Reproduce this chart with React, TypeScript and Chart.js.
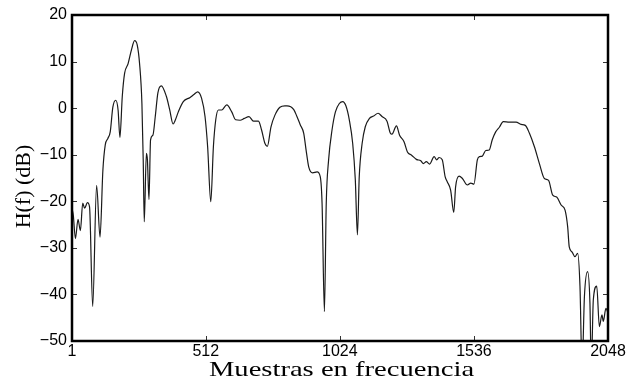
import React, { useEffect, useRef } from "react";
import { Chart, registerables } from "chart.js";

Chart.register(...registerables);

const samples = [
  1, 6, 14, 24, 33, 42, 49, 60, 68, 80, 95, 108, 119, 128, 138, 147, 157, 168, 177, 184,
  193, 202, 215, 228, 240, 250, 259, 268, 273, 277, 285, 289, 295, 301, 310, 319, 329, 342,
  361, 374, 387, 396, 407, 426, 452, 468, 481, 496, 509, 519, 531, 541, 550, 560, 573, 592,
  611, 626, 643, 659, 677, 694, 713, 725, 738, 747, 761, 776, 795, 814, 822, 848, 860, 873,
  886, 895, 905, 920, 937, 949, 956, 965, 972, 981, 994, 1007, 1022, 1035, 1047, 1060, 1073,
  1083, 1091, 1098, 1109, 1121, 1137, 1153, 1170, 1185, 1204, 1217, 1223, 1240, 1252, 1269,
  1282, 1298, 1316, 1333, 1343, 1354, 1367, 1384, 1394, 1403, 1415, 1426, 1434, 1447, 1459,
  1466, 1479, 1492, 1511, 1524, 1536, 1549, 1558, 1568, 1581, 1594, 1606, 1619, 1633, 1648,
  1671, 1697, 1716, 1732, 1748, 1767, 1786, 1805, 1821, 1837, 1852, 1869, 1884, 1894, 1900,
  1911, 1922, 1932, 1941, 1949, 1958, 1970, 1979, 1984, 1992, 2005, 2015, 2025, 2030, 2040,
  2048,
];

const magnitudeDb = [
  -21.5, -23, -28.0, -23.9, -26.3, -20.4, -21.5, -20.3, -21.2, -42.6, -16.6, -27.7, -13.3, -7.9,
  -6.5, -5.1, 0.2, 1.7, -0.4, -6.3, 2.5, 7.5, 9.5, 12.5, 14.5, 13.6, 9.6, 1.0, -11.1, -24.4,
  -9.7, -11.1, -19.6, -6.8, -5.8, -1.8, 3.3, 4.8, 2.6, -0.3, -3.4, -2.5, -0.8, 1.4, 2.3, 3.0,
  3.5, 2.1, -1.8, -8.3, -20.1, -8.3, -2.5, -0.4, -0.4, 0.7, -0.8, -2.5, -2.6, -2.2, -1.8, -2.8,
  -2.8, -4.7, -7.6, -8.2, -4.0, -1.5, 0.2, 0.5, 0.5, -0.3, -1.8, -3.6, -5.4, -9.0, -12.6,
  -13.9, -13.7, -14.7, -20.4, -43.7, -20.4, -11.1, -4.7, -0.8, 1.0, 1.4, 0.5, -2.5, -7.6,
  -15.4, -27.2, -14.7, -7.6, -4.0, -2.2, -1.7, -1.1, -1.8, -2.8, -5.4, -5.6, -3.8, -5.8, -7.2,
  -9.4, -10.1, -11.0, -11.3, -11.9, -11.5, -12.0, -10.4, -11.1, -10.6, -11.1, -14.7, -15.8,
  -17.6, -22.4, -16.9, -14.6, -15.1, -16.5, -16.1, -16.3, -11.1, -10.4, -10.3, -9.1, -9.0,
  -6.8, -5.1, -4.1, -2.9, -3.0, -3.0, -3.5, -3.7, -5.4, -8.3, -11.9, -15.1, -15.5, -18.7,
  -19.1, -20.8, -21.9, -25.5, -29.8, -30.9, -31.9, -31.2, -38.3, -56, -40.4, -35.1, -41.8,
  -56, -41.1, -38.2, -46.9, -44.4, -45.8, -43.0, -44.0,
];

const xTicks = [1, 512, 1024, 1536, 2048];
const yTicks = [-50, -40, -30, -20, -10, 0, 10, 20];
const xTitle = "Muestras en frecuencia";
const yTitle = "H(f) (dB)";

const framePlugin = {
  id: "framePlugin",
  afterDraw(chart: any) {
    const { ctx, chartArea, scales } = chart;
    const { left, right, top, bottom } = chartArea;
    ctx.save();
    // inward ticks
    ctx.strokeStyle = "#333";
    ctx.lineWidth = 1;
    ctx.beginPath();
    yTicks.forEach((v) => {
      const y = Math.round(scales.y.getPixelForValue(v)) + 0.5;
      ctx.moveTo(left, y);
      ctx.lineTo(left + 5, y);
      ctx.moveTo(right, y);
      ctx.lineTo(right - 5, y);
    });
    xTicks.forEach((v) => {
      const x = Math.round(scales.x.getPixelForValue(v)) + 0.5;
      ctx.moveTo(x, bottom);
      ctx.lineTo(x, bottom - 5);
      ctx.moveTo(x, top);
      ctx.lineTo(x, top + 5);
    });
    ctx.stroke();
    // frame
    ctx.strokeStyle = "#000";
    ctx.lineWidth = 2.5;
    ctx.strokeRect(left, top, right - left, bottom - top);
    // axis titles
    ctx.fillStyle = "#000";
    ctx.font = '22px "Liberation Serif"';
    ctx.textAlign = "center";
    ctx.textBaseline = "alphabetic";
    ctx.save();
    ctx.translate(341.5, 375.5);
    ctx.scale(1.3, 1);
    ctx.fillText(xTitle, 0, 0);
    ctx.restore();
    ctx.save();
    ctx.translate(29.5, 186.5);
    ctx.rotate(-Math.PI / 2);
    ctx.fillText(yTitle, 0, 0);
    ctx.restore();
    ctx.restore();
  },
};

export default function App() {
  const ref = useRef<HTMLCanvasElement>(null);
  useEffect(() => {
    if (!ref.current) return;
    const chart = new Chart(ref.current, {
      type: "line",
      data: {
        datasets: [
          {
            data: samples.map((x, i) => ({ x, y: magnitudeDb[i] })),
            borderColor: "#1a1a1a",
            borderWidth: 1.2,
            pointRadius: 0,
            cubicInterpolationMode: "monotone",
            fill: false,
          },
        ],
      },
      options: {
        animation: false,
        responsive: false,
        devicePixelRatio: 1,
        layout: { padding: { left: 0, right: 20, top: 15, bottom: 0 } },
        plugins: { legend: { display: false }, tooltip: { enabled: false } },
        scales: {
          x: {
            type: "linear",
            min: 1,
            max: 2048,
            afterBuildTicks: (s: any) => {
              s.ticks = xTicks.map((v) => ({ value: v }));
            },
            afterFit: (s: any) => {
              s.height = 38;
            },
            ticks: {
              autoSkip: false,
              maxRotation: 0,
              padding: 1,
              color: "#000",
              font: { family: '"Liberation Sans"', size: 16 },
              callback: (v: any) => String(v),
            },
            grid: { display: false, drawTicks: false },
            border: { display: false },
          },
          y: {
            type: "linear",
            min: -50,
            max: 20,
            afterBuildTicks: (s: any) => {
              s.ticks = yTicks.map((v) => ({ value: v }));
            },
            afterFit: (s: any) => {
              s.width = 72;
            },
            ticks: {
              padding: 5,
              color: "#000",
              font: { family: '"Liberation Sans"', size: 16 },
              callback: (v: any) => String(v).replace("-", "\u2212"),
            },
            grid: { display: false, drawTicks: false },
            border: { display: false },
          },
        },
      },
      plugins: [framePlugin],
    } as any);
    return () => chart.destroy();
  }, []);
  return (
    <div style={{ position: "fixed", left: 0, top: 0, width: 628, height: 379, background: "#fff" }}>
      <canvas ref={ref} width={628} height={379} style={{ width: 628, height: 379 }} />
    </div>
  );
}
